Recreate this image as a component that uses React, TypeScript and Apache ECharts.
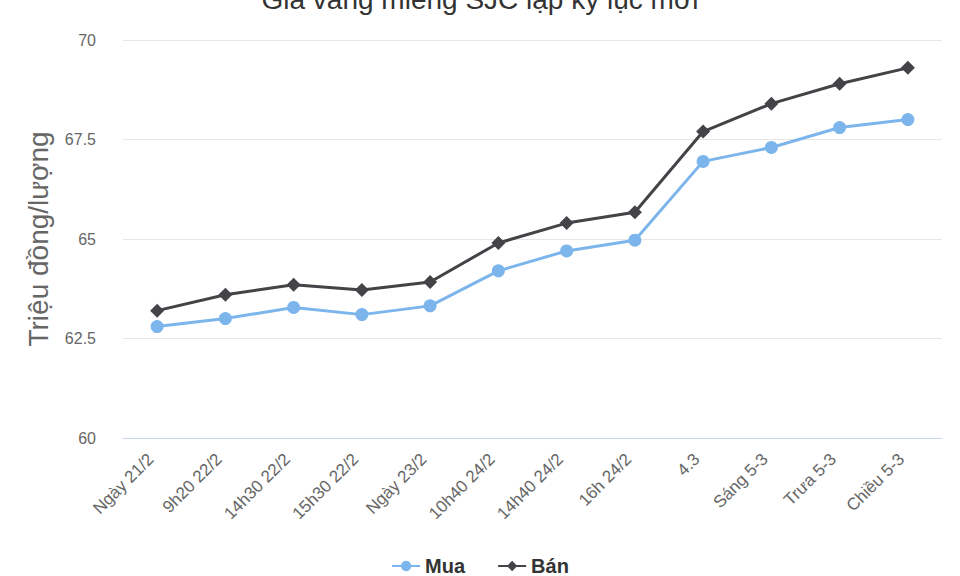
import React, { useEffect, useRef } from "react";
import * as echarts from "echarts";

const categories = [
  "Ngày 21/2", "9h20 22/2", "14h30 22/2", "15h30 22/2", "Ngày 23/2", "10h40 24/2",
  "14h40 24/2", "16h 24/2", "4.3", "Sáng 5-3", "Trưa 5-3", "Chiều 5-3",
];
const muaValues = [62.8, 63.0, 63.28, 63.1, 63.32, 64.2, 64.7, 64.97, 66.95, 67.3, 67.8, 68.0];
const banValues = [63.2, 63.6, 63.85, 63.72, 63.92, 64.9, 65.4, 65.67, 67.7, 68.4, 68.9, 69.3];
const yTicks = [60, 62.5, 65, 67.5, 70];

export default function App() {
  const ref = useRef<HTMLDivElement>(null);
  useEffect(() => {
    const chart = echarts.init(ref.current!, null, { renderer: "svg" });
    const font = "Arial, 'Liberation Sans', sans-serif";
    chart.setOption({
      animation: false,
      textStyle: { fontFamily: font },
      title: {
        text: "Giá vàng miếng SJC lập kỷ lục mới",
        left: "center",
        top: -20,
        textStyle: { fontSize: 28, fontWeight: "normal", color: "#333333", fontFamily: font },
      },
      legend: {
        bottom: -5,
        left: "center",
        itemGap: 32,
        itemWidth: 28,
        itemHeight: 13,
        textStyle: { fontSize: 20, fontWeight: "bold", color: "#333333", fontFamily: font },
        data: ["Mua", "Bán"],
      },
      grid: { left: 123, right: 18, top: 40, bottom: 138 },
      xAxis: {
        type: "category",
        data: categories,
        boundaryGap: true,
        axisLine: { lineStyle: { color: "#ccd6eb" } },
        axisTick: { show: false },
        axisLabel: {
          rotate: 45, color: "#666666", fontSize: 17, interval: 0, margin: 12,
          padding: [0, 9, 0, 0], fontFamily: font,
        },
      },
      yAxis: {
        type: "value",
        min: yTicks[0],
        max: yTicks[yTicks.length - 1],
        interval: 2.5,
        name: "Triệu đồng/lượng",
        nameLocation: "middle",
        nameGap: 71,
        nameRotate: 90,
        nameTextStyle: { fontSize: 28, color: "#666666", fontFamily: font },
        axisLine: { show: false },
        axisTick: { show: false },
        axisLabel: { color: "#666666", fontSize: 16, margin: 27, fontFamily: font },
        splitLine: { lineStyle: { color: "#e6e6e6" } },
      },
      series: [
        {
          name: "Mua",
          type: "line",
          data: muaValues,
          symbol: "circle",
          symbolSize: 13,
          lineStyle: { width: 3, color: "#7cb5ec" },
          itemStyle: { color: "#7cb5ec" },
        },
        {
          name: "Bán",
          type: "line",
          data: banValues,
          symbol: "diamond",
          symbolSize: 14,
          lineStyle: { width: 3, color: "#434348" },
          itemStyle: { color: "#434348" },
        },
      ],
    });
    return () => chart.dispose();
  }, []);
  return <div ref={ref} style={{ width: 960, height: 576, position: "absolute", left: 0, top: 0 }} />;
}
